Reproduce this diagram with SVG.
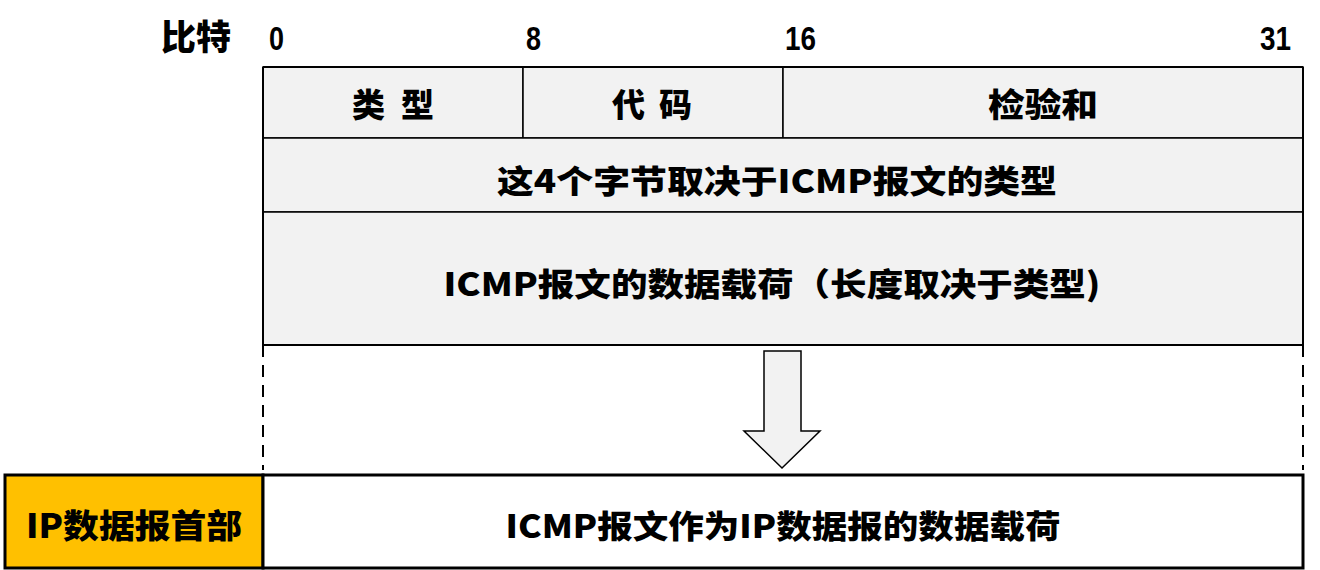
<svg xmlns="http://www.w3.org/2000/svg" width="1320" height="570" viewBox="0 0 1320 570">
<style>
.t{font-family:"Noto Sans CJK SC","Liberation Sans",sans-serif;font-weight:900;fill:#000;text-anchor:middle}
.n{font-family:"Liberation Sans","Noto Sans CJK SC",sans-serif;font-weight:bold;fill:#000}
.cell{fill:#f2f2f2;stroke:#000;stroke-width:1.5}
</style>
<rect width="1320" height="570" fill="#fff"/>
<g id="labels">
<text class="t" x="196" y="50" font-size="35">比特</text>
<text class="n" x="269" y="50" font-size="34" textLength="15" lengthAdjust="spacingAndGlyphs">0</text>
<text class="n" x="526" y="50" font-size="34" textLength="15" lengthAdjust="spacingAndGlyphs">8</text>
<text class="n" x="785" y="50" font-size="34" textLength="31" lengthAdjust="spacingAndGlyphs">16</text>
<text class="n" x="1260" y="50" font-size="34" textLength="31" lengthAdjust="spacingAndGlyphs">31</text>
</g>
<g id="type">
<rect class="cell" x="263" y="67" width="260" height="71"/>
<text class="t" x="393" y="117" font-size="33" letter-spacing="16" dx="8">类型</text>
</g>
<g id="code">
<rect class="cell" x="523" y="67" width="260" height="71"/>
<text class="t" x="652" y="117" font-size="33" letter-spacing="14" dx="7">代码</text>
</g>
<g id="checksum">
<rect class="cell" x="783" y="67" width="520" height="71"/>
<text class="t" x="1043" y="117" font-size="33" textLength="110" lengthAdjust="spacingAndGlyphs">检验和</text>
</g>
<g id="rest">
<rect class="cell" x="263" y="138" width="1040" height="74"/>
<text class="t" x="777" y="193" font-size="32" textLength="560" lengthAdjust="spacingAndGlyphs">这4个字节取决于ICMP报文的类型</text>
</g>
<g id="payload">
<rect class="cell" x="263" y="212" width="1040" height="133"/>
<text class="t" x="772" y="296" font-size="32" textLength="657" lengthAdjust="spacingAndGlyphs">ICMP报文的数据载荷（长度取决于类型)</text>
</g>
<g id="outline" fill="none" stroke="#000" stroke-width="2">
<line x1="263" y1="67" x2="1303" y2="67"/>
<line x1="263" y1="67" x2="263" y2="345"/>
<line x1="1303" y1="67" x2="1303" y2="345"/>
<line x1="263" y1="345" x2="1303" y2="345"/>
</g>
<g id="connectors" fill="none" stroke="#000" stroke-width="2">
<line x1="263" y1="345" x2="263" y2="470" stroke-dasharray="12,8"/>
<line x1="1303" y1="345" x2="1303" y2="470" stroke-dasharray="12,8"/>
<path d="M764,351 H801 V431 H820 L782,468 L744,431 H764 Z" fill="#f2f2f2" stroke-width="1.5"/>
</g>
<g id="ipheader">
<rect x="5" y="475" width="258" height="93" fill="#ffc000" stroke="#000" stroke-width="3"/>
<text class="t" x="134" y="538" font-size="33" textLength="216" lengthAdjust="spacingAndGlyphs">IP数据报首部</text>
</g>
<g id="ippayload">
<rect x="263" y="475" width="1040" height="93" fill="#fff" stroke="#000" stroke-width="3"/>
<text class="t" x="783" y="538" font-size="32" textLength="555" lengthAdjust="spacingAndGlyphs">ICMP报文作为IP数据报的数据载荷</text>
</g>
</svg>
